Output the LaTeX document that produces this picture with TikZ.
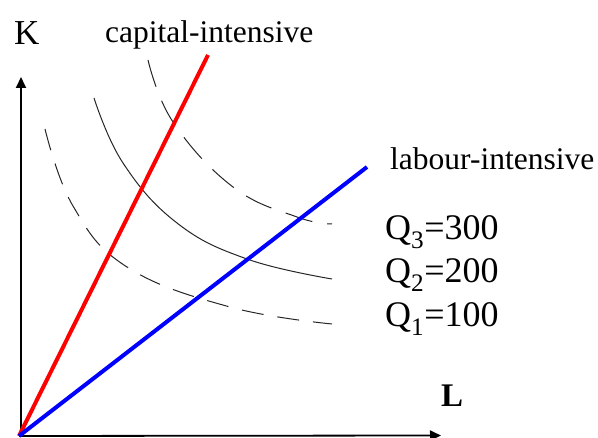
\documentclass[tikz,border=0pt]{standalone}
\usepackage{fontspec}
\setmainfont{Liberation Serif}
\usetikzlibrary{arrows.meta}
\begin{document}
\begin{tikzpicture}[x=1pt,y=-1pt,
  axis/.style={line width=1.8pt,-{Triangle[length=11pt,width=10pt]}},
  ray/.style={line width=4pt,line cap=butt},
  isoq/.style={line width=1pt,black!85},
  dsh/.style={dash pattern=on 22pt off 14pt},
  lbl/.style={anchor=base west,inner sep=0pt,font=\fontsize{31.5}{36}\selectfont},
  qlbl/.style={anchor=base west,inner sep=0pt,font=\fontsize{36}{43}\selectfont}]
\useasboundingbox (0,0) rectangle (598,438);
\coordinate (O) at (21,435.5);
\coordinate (Kt) at (21,77);
\coordinate (Lt) at (441,435.5);
\coordinate (R) at (208,55);
\coordinate (B) at (367,167);
\coordinate (O2) at (19,436);
% isoquants
\draw[isoq,dsh] plot[smooth,tension=0.7] coordinates {(45,129) (73,206) (127,267) (230,307) (332,324)};
\draw[isoq] plot[smooth,tension=0.7] coordinates {(94,98) (123,163) (177,223) (247,259) (332,279)};
\draw[isoq,dash pattern=on 28pt off 15pt] plot[smooth,tension=0.7] coordinates {(148,60) (173,122) (233,187) (297,217) (332,224)};
% axes
\draw[axis] (O) -- (Kt);
\draw[axis] (O2) -- (Lt);
% rays
\draw[ray,red] (O2) -- (R);
\draw[ray,blue] (O2) -- (B);
% labels
\node[anchor=base west,inner sep=0pt,font=\fontsize{35}{40}\selectfont] (K) at (14,45) {K};
\node[lbl] (cap) at (105,43) {capital-intensive};
\node[lbl] (lab) at (390,170) {labour-intensive};
\node[qlbl] (q3) at (385,240) {Q\textsubscript{3}=300};
\node[qlbl] (q2) at (385,283) {Q\textsubscript{2}=200};
\node[qlbl] (q1) at (385,327) {Q\textsubscript{1}=100};
\node[anchor=base west,inner sep=0pt,font=\fontsize{33}{40}\selectfont\bfseries] (L) at (441,407) {L};
\end{tikzpicture}
\end{document}
